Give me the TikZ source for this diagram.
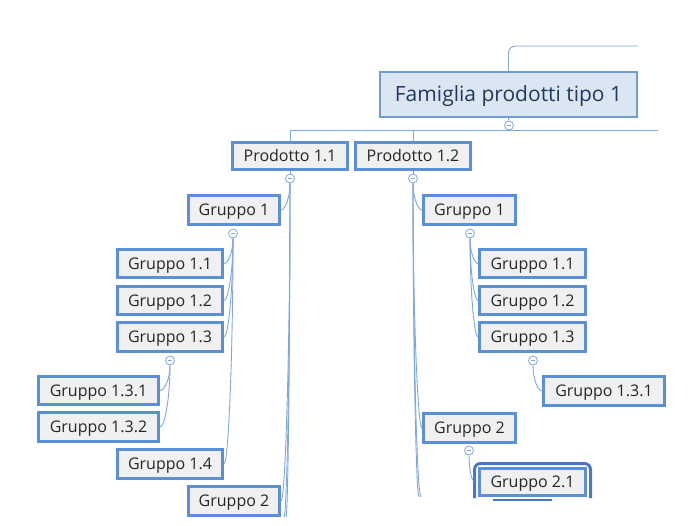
\documentclass[tikz,border=0pt]{standalone}
\usepackage{fontspec}
\setmainfont{Open Sans}
\usetikzlibrary{calc}
\definecolor{boxborder}{HTML}{5B8FD8}
\definecolor{boxfill}{HTML}{F0F0F0}
\definecolor{mainfill}{HTML}{DCE6F2}
\definecolor{mainborder}{HTML}{6E9CD8}
\definecolor{linkcol}{HTML}{7EA8E0}
\definecolor{selcol}{HTML}{4D74C8}
\definecolor{maintext}{HTML}{1F3A5F}
\definecolor{subtext}{HTML}{262626}
\newcommand\mmlink[2]{\draw[conn] (#1.south) .. controls ($(#1.south)!0.5!(#1.south|-#2)$) and ($(#1.south|-#2)!0.5!(#2)$) .. (#2);}
\tikzset{
  mainbox/.style={draw=mainborder, fill=mainfill, line width=2pt, inner sep=0pt,
    minimum width=257pt, minimum height=45pt, text=maintext, font=\fontsize{21}{24}\selectfont,
    text height=15pt, text depth=0pt},
  gbox/.style={draw=boxborder, fill=boxfill, line width=3pt, inner sep=0pt,
    minimum height=28pt, text=subtext, font=\fontsize{16}{19}\selectfont,
    text height=11.4pt, text depth=0pt},
  conn/.style={draw=linkcol, line width=0.9pt},
  collapse/.style={circle, draw=linkcol, fill=white, line width=0.8pt, minimum size=9pt, inner sep=0pt,
    path picture={\draw[linkcol, line width=0.8pt] ([xshift=-2.3pt]path picture bounding box.center) -- ([xshift=2.3pt]path picture bounding box.center);}}
}
\begin{document}
\begin{tikzpicture}[x=1pt,y=-1pt]
\useasboundingbox (0,0) rectangle (700,526);
% main
\node[mainbox] (main) at (508.5,94.5) {Famiglia prodotti tipo 1};
\coordinate (topend) at (638,46);
\draw[conn, rounded corners=7pt] (main.north) -- (main.north|-topend) -- (topend);
\node[collapse] (c0) at (509,125.5) {};
\draw[conn] (main.south) -- (c0.north);
\coordinate (hl) at (290,130.5);
\coordinate (hr) at (658,130.5);
\draw[conn] (hl) -- (hr);
% products
\node[gbox, minimum width=115pt, minimum height=27pt] (p11) at (290,156) {Prodotto 1.1};
\node[gbox, minimum width=115pt, minimum height=27pt] (p12) at (413,156) {Prodotto 1.2};
\draw[conn] (p11.north) -- (p11.north|-hl);
\draw[conn] (p12.north) -- (p12.north|-hl);
\node[collapse] (cL) at (290,178.5) {};
\node[collapse] (cR) at (413,178.5) {};
\draw[conn] (p11.south) -- (cL.north);
\draw[conn] (p12.south) -- (cR.north);
% left branch
\node[gbox, minimum width=91pt, minimum height=29pt] (Lg1) at (234,210) {Gruppo 1};
\node[collapse] (cLg1) at (233,233.5) {};
\node[gbox, minimum width=105pt] (Lg11) at (170,263.5) {Gruppo 1.1};
\node[gbox, minimum width=105pt] (Lg12) at (170,300.5) {Gruppo 1.2};
\node[gbox, minimum width=105pt, minimum height=29pt] (Lg13) at (170,337) {Gruppo 1.3};
\node[collapse] (cLg13) at (170,360.5) {};
\node[gbox, minimum width=120pt] (Lg131) at (98.5,390.5) {Gruppo 1.3.1};
\node[gbox, minimum width=120pt, minimum height=29pt] (Lg132) at (98.5,427) {Gruppo 1.3.2};
\node[gbox, minimum width=105pt, minimum height=29pt] (Lg14) at (170,464) {Gruppo 1.4};
\node[gbox, minimum width=91pt, minimum height=29pt] (Lg2) at (234,501) {Gruppo 2};
\coordinate (Lend1) at (284,517);
\coordinate (Lend2) at (286,517);
\mmlink{cL}{Lg1.east}
\mmlink{cL}{Lg2.east}
\mmlink{cL}{Lend1}
\mmlink{cL}{Lend2}
\mmlink{cLg1}{Lg11.east}
\mmlink{cLg1}{Lg12.east}
\mmlink{cLg1}{Lg13.east}
\mmlink{cLg1}{Lg14.east}
\mmlink{cLg13}{Lg131.east}
\mmlink{cLg13}{Lg132.east}
% right branch
\node[gbox, minimum width=92pt, minimum height=29pt] (Rg1) at (469.5,210) {Gruppo 1};
\node[collapse] (cRg1) at (470,233.5) {};
\node[gbox, minimum width=106pt] (Rg11) at (532.5,263.5) {Gruppo 1.1};
\node[gbox, minimum width=106pt] (Rg12) at (532.5,300.5) {Gruppo 1.2};
\node[gbox, minimum width=106pt, minimum height=29pt] (Rg13) at (532.5,337) {Gruppo 1.3};
\node[collapse] (cRg13) at (533,360.5) {};
\node[gbox, minimum width=121pt, minimum height=29pt] (Rg131) at (604,391) {Gruppo 1.3.1};
\node[gbox, minimum width=92pt, minimum height=29pt] (Rg2) at (469.5,428) {Gruppo 2};
\node[collapse] (cRg2) at (469,450.5) {};
\draw[selcol, line width=3pt, rounded corners=6pt] (474.5,498) -- (474.5,463.5) -- (590.5,463.5) -- (590.5,498);
\draw[selcol, line width=2pt] (493,499.5) -- (552,499.5);
\node[gbox, minimum width=106pt, minimum height=27pt] (Rg21) at (532.5,482) {Gruppo 2.1};
\coordinate (Rend1) at (419,497);
\coordinate (Rend2) at (421,497);
\mmlink{cR}{Rg1.west}
\mmlink{cR}{Rg2.west}
\mmlink{cR}{Rend1}
\mmlink{cR}{Rend2}
\mmlink{cRg1}{Rg11.west}
\mmlink{cRg1}{Rg12.west}
\mmlink{cRg1}{Rg13.west}
\mmlink{cRg13}{Rg131.west}
\coordinate (Rg21in) at (474,481);
\mmlink{cRg2}{Rg21in}
\end{tikzpicture}
\end{document}
